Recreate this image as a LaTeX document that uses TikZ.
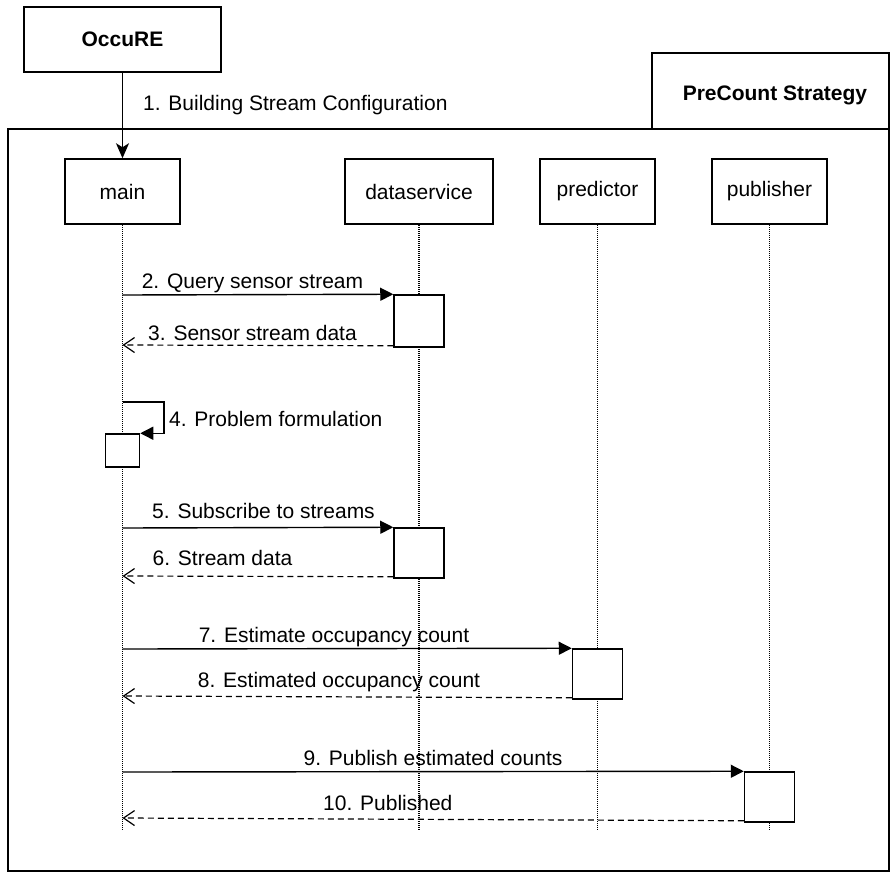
\documentclass[tikz,border=0pt]{standalone}
\usepackage{fontspec}
\setmainfont{Liberation Sans}
\usetikzlibrary{arrows.meta}
\begin{document}
\begin{tikzpicture}[x=1pt,y=-1pt,
  txt/.style={font=\fontsize{21}{25}\selectfont, inner sep=0pt},
  bold/.style={font=\fontsize{21}{25}\selectfont\bfseries, inner sep=0pt},
  box/.style={draw, line width=1.5pt, fill=white, inner sep=0pt},
  actbox/.style={draw, line width=1.5pt, fill=white, inner sep=0pt},
  lifeline/.style={line width=1.2pt, dash pattern=on 1pt off 1pt, black},
  call/.style={line width=1.4pt, -{Triangle[length=13pt,width=13pt]}},
  reply/.style={line width=1.2pt, dash pattern=on 6pt off 4pt, -{Straight Barb[length=11pt,width=15pt,line width=1.2pt]}},
  init/.style={line width=1.5pt, -{Stealth[length=15pt,width=13pt,inset=4pt]}}]
\useasboundingbox (0,0) rectangle (892,873);

% outer frame and its tab
\node[box, fill=none, minimum width=881pt, minimum height=742pt] (frame) at (448.5,500) {};
\node[box, minimum width=237pt, minimum height=76pt] (tab) at (770.5,91) {};
\node[bold] (tabtxt) at (775,95) {PreCount Strategy};

% external actor
\node[box, minimum width=197pt, minimum height=65pt] (occure) at (122.5,39.5) {};
\node[bold] (occuretxt) at (122.5,39.5) {OccuRE};

% participants
\node[box, minimum width=115pt, minimum height=65pt, txt] (main) at (122.5,191.5) {main};
\node[box, minimum width=148pt, minimum height=65pt, txt] (ds) at (419,191.5) {dataservice};
\node[box, minimum width=115pt, minimum height=65pt, txt] (pred) at (597.5,191.5) {predictor};
\node[box, minimum width=115pt, minimum height=65pt, txt] (pub) at (769.5,191.5) {publisher};

% lifelines
\coordinate (mainend) at (122.5,829);
\coordinate (dsend) at (419,829);
\coordinate (predend) at (597.5,829);
\coordinate (pubend) at (769.5,829);
\draw[lifeline] (main.south) -- (mainend);
\draw[lifeline] (ds.south) -- (dsend);
\draw[lifeline] (pred.south) -- (predend);
\draw[lifeline] (pub.south) -- (pubend);

% activations
\node[actbox, minimum width=50pt, minimum height=52pt] (ds1) at (419,321) {};
\node[actbox, minimum width=34pt, minimum height=33pt] (self) at (122.5,450.5) {};
\node[actbox, minimum width=50pt, minimum height=50pt] (ds2) at (419,553) {};
\node[actbox, minimum width=50pt, minimum height=50pt] (pr1) at (597.5,674) {};
\node[actbox, minimum width=50pt, minimum height=50pt] (pb1) at (769.5,797) {};

% points on the main lifeline
\coordinate (m2) at (122.5,295);
\coordinate (m3) at (122.5,345);
\coordinate (m4) at (122.5,402);
\coordinate (m5) at (122.5,528);
\coordinate (m6) at (122.5,576);
\coordinate (m7) at (122.5,649);
\coordinate (m8) at (122.5,696);
\coordinate (m9) at (122.5,772);
\coordinate (m10) at (122.5,818);
\coordinate (loop) at (164,402);

% messages
\draw[init] (occure.south) -- (main.north);
\node[txt, anchor=base west] (l1) at (143,110) {1. Building Stream Configuration};

\draw[call] (m2) -- (ds1.north west);
\node[txt, anchor=base] (l2) at (252.5,288) {2. Query sensor stream};
\draw[reply] ([yshift=2pt]ds1.south west) -- (m3);
\node[txt, anchor=base] (l3) at (252.5,340) {3. Sensor stream data};

\draw[call] (m4) -- (loop) |- (self.north east);
\node[txt, anchor=base west] (l4) at (169,426) {4. Problem formulation};

\draw[call] (m5) -- (ds2.north west);
\node[txt, anchor=base] (l5) at (263.5,518) {5. Subscribe to streams};
\draw[reply] ([yshift=2pt]ds2.south west) -- (m6);
\node[txt, anchor=base] (l6) at (222.5,565) {6. Stream data};

\draw[call] (m7) -- (pr1.north west);
\node[txt, anchor=base] (l7) at (334,642) {7. Estimate occupancy count};
\draw[reply] ([yshift=2pt]pr1.south west) -- (m8);
\node[txt, anchor=base] (l8) at (339,687) {8. Estimated occupancy count};

\draw[call] (m9) -- (pb1.north west);
\node[txt, anchor=base] (l9) at (433,765) {9. Publish estimated counts};
\draw[reply] ([yshift=2pt]pb1.south west) -- (m10);
\node[txt, anchor=base west] (l10) at (323,810) {10. Published};
\end{tikzpicture}
\end{document}
